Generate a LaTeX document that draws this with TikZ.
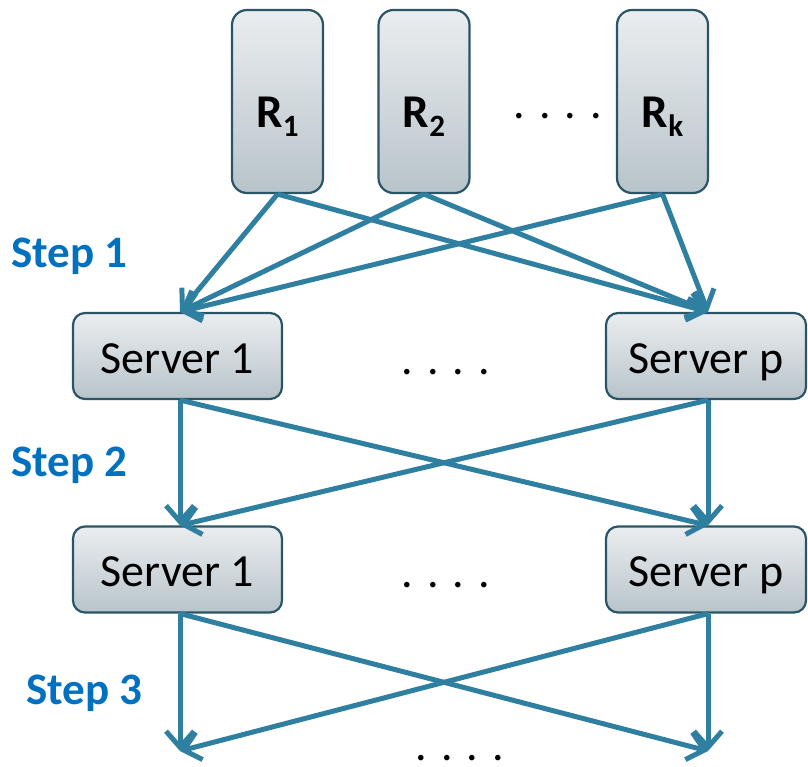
\documentclass[tikz,border=0pt]{standalone}
\usepackage{fontspec}
\setmainfont{Carlito}
\usetikzlibrary{arrows.meta}
\definecolor{arrowc}{HTML}{2F7FA0}
\definecolor{boxb}{HTML}{2A5566}
\definecolor{boxtop}{HTML}{EAEDF0}
\definecolor{boxbot}{HTML}{B8C4CA}
\definecolor{stepc}{HTML}{0070C0}
\begin{document}
\begin{tikzpicture}[x=1pt,y=-1pt,
  box/.style={draw=boxb, line width=2.2pt, top color=boxtop, bottom color=boxbot, inner sep=0pt},
  rbox/.style={box, rounded corners=15pt, minimum width=91pt, minimum height=183pt,
    font=\fontsize{47}{47}\selectfont\bfseries, text height=60pt, text depth=7pt},
  srv/.style={box, rounded corners=12pt, minimum height=86pt,
    font=\fontsize{46}{46}\selectfont, text height=36pt, text depth=2pt},
  steplbl/.style={anchor=base west, text=stepc, font=\fontsize{45}{45}\selectfont\bfseries, inner sep=0pt},
  dotsl/.style={anchor=base, font=\fontsize{46}{46}\selectfont, inner sep=0pt, text height=6pt, text depth=0pt},
  conn/.style={draw=arrowc, line width=5pt, -{Straight Barb[length=16pt,width=28pt]}}]
\useasboundingbox (0,0) rectangle (808,767);

% request boxes
\node[rbox] (R1) at (277.5,101.5) {R\raisebox{-9pt}{\fontsize{31}{31}\selectfont 1}};
\node[rbox] (R2) at (424,101.5) {R\raisebox{-9pt}{\fontsize{31}{31}\selectfont 2}};
\node[rbox] (Rk) at (662.5,101.5) {R\raisebox{-9pt}{\fontsize{31}{31}\selectfont k}};
\node[dotsl] (d0) at (558,119) {. . . .};

% servers row 1
\node[srv, minimum width=209pt] (S1a) at (177.5,356) {Server 1};
\node[srv, minimum width=200pt] (Spa) at (706,356) {Server p};
\node[dotsl] (d1) at (446,374) {. . . .};

% servers row 2
\node[srv, minimum width=209pt] (S1b) at (177.5,569.5) {Server 1};
\node[srv, minimum width=200pt] (Spb) at (706,569.5) {Server p};
\node[dotsl] (d2) at (446,587) {. . . .};

\node[dotsl] (d3) at (460,760) {. . . .};

% step labels
\node[steplbl] (st1) at (11,268) {Step 1};
\node[steplbl] (st2) at (11,476) {Step 2};
\node[steplbl] (st3) at (26,704) {Step 3};

% end points of step 3
\coordinate (e1) at (180,751);
\coordinate (e2) at (708,751);

% step 1
\draw[conn] (R1.south) -- ([xshift=2.5pt]S1a.north);
\draw[conn] (R1.south) -- ([xshift=2pt]Spa.north);
\draw[conn] (R2.south) -- ([xshift=2.5pt]S1a.north);
\draw[conn] (R2.south) -- ([xshift=2pt]Spa.north);
\draw[conn] (Rk.south) -- ([xshift=2.5pt]S1a.north);
\draw[conn] (Rk.south) -- ([xshift=2pt]Spa.north);

% step 2
\draw[conn] ([xshift=2.5pt]S1a.south) -- ([xshift=2.5pt]S1b.north);
\draw[conn] ([xshift=2.5pt]S1a.south) -- ([xshift=2pt]Spb.north);
\draw[conn] ([xshift=2pt]Spa.south) -- ([xshift=2.5pt]S1b.north);
\draw[conn] ([xshift=2pt]Spa.south) -- ([xshift=2pt]Spb.north);

% step 3
\draw[conn] ([xshift=2.5pt]S1b.south) -- (e1);
\draw[conn] ([xshift=2.5pt]S1b.south) -- (e2);
\draw[conn] ([xshift=2pt]Spb.south) -- (e1);
\draw[conn] ([xshift=2pt]Spb.south) -- (e2);
\end{tikzpicture}
\end{document}
